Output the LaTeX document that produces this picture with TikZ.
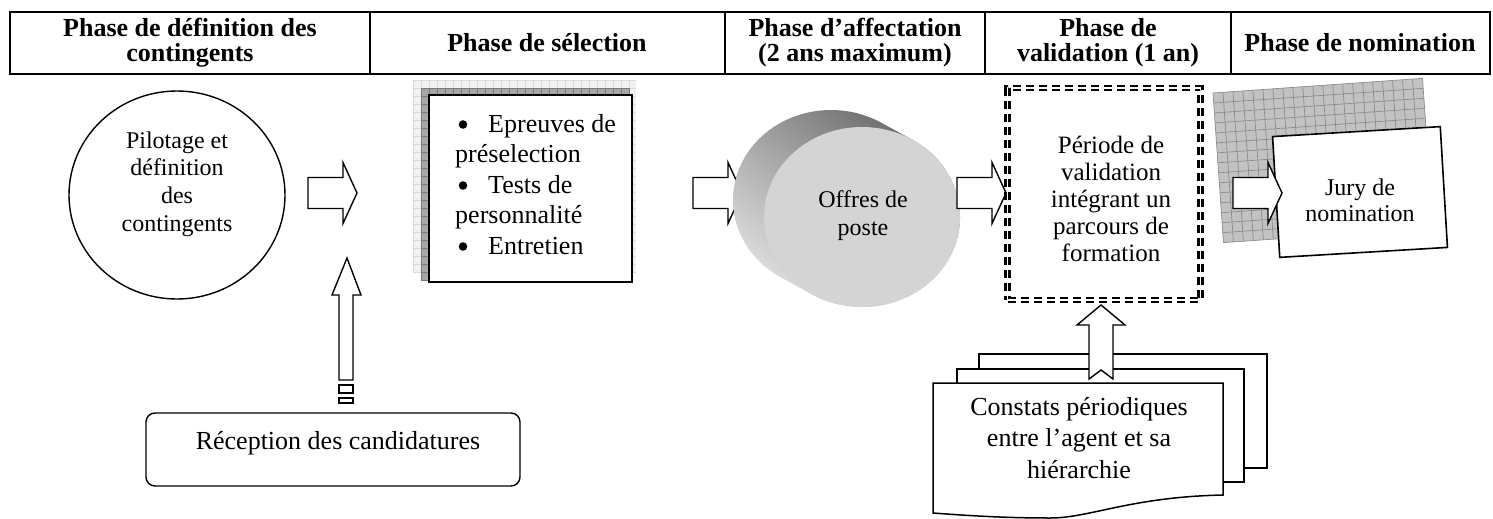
\documentclass[tikz,border=0pt]{standalone}
\usepackage{fontspec}
\setmainfont{Liberation Serif}
\usetikzlibrary{calc,shapes.geometric}
\begin{document}
\begin{tikzpicture}[x=1pt,y=-1pt,
  hdr/.style={font=\bfseries\fontsize{26}{25}\selectfont, align=center, inner sep=0pt},
  txt/.style={align=center, inner sep=0pt},
  blk/.style={draw=black, line width=1.4pt, fill=white, line join=miter},
  rarr/.pic={\draw[blk] (0,-15.5) -- (35,-15.5) -- (35,-30.5) -- (49,0) -- (35,30.5) -- (35,15.5) -- (0,15.5) -- cycle;}
]
\useasboundingbox (0,0) rectangle (1493,519);

% ---------------- header table
\draw[line width=1.8pt] (10,12) rectangle (1490,74);
\foreach \x in {370,725,985,1231} \draw[line width=1.2pt] (\x,12) -- (\x,74);
\node[hdr] (h1) at (190,43) {Phase de définition des\\contingents};
\node[hdr] (h2) at (547,43) {Phase de sélection};
\node[hdr] (h3) at (855,43) {Phase d’affectation\\(2 ans maximum)};
\node[hdr] (h4) at (1108,43) {Phase de\\validation (1 an)};
\node[hdr] (h5) at (1360,43) {Phase de nomination};

% ---------------- pilotage ellipse
\node[draw, ellipse, line width=1.4pt, minimum width=216pt, minimum height=208pt] (pil) at (177,195) {};
\node[txt, font=\fontsize{24}{27.7}\selectfont] (pilt) at (177,184) {Pilotage et\\définition\\des\\contingents};
\pic at (308,193) {rarr};

% ---------------- reception
\node[draw, line width=1.4pt, rounded corners=9pt, minimum width=374pt, minimum height=73pt] (rec) at (333,449.5) {};
\node[txt, font=\fontsize{26}{28}\selectfont] (rect) at (338,443) {Réception des candidatures};
\draw[blk] (339,380) -- (339,295) -- (332,295) -- (347,258) -- (361,295) -- (353,295) -- (353,380) -- cycle;
\draw[line width=1.4pt] (339,385) rectangle (353,393);
\draw[line width=1.4pt] (339,398) rectangle (353,403);

% ---------------- selection box
\fill[black!5] (413,80) rectangle (636,272);
\foreach \x in {413,421,...,636} \draw[black!14, line width=0.5pt] (\x,80) -- (\x,272);
\foreach \y in {80,88,...,272} \draw[black!14, line width=0.5pt] (413,\y) -- (636,\y);
\fill[black!35] (421,88) rectangle (630,281);
\foreach \x in {421,429,...,630} \draw[black!52, line width=0.5pt] (\x,88) -- (\x,281);
\foreach \y in {88,96,...,281} \draw[black!52, line width=0.5pt] (421,\y) -- (630,\y);
\node[draw, line width=1.6pt, fill=white, minimum width=203pt, minimum height=187pt] (sel) at (530.5,188.5) {};
\node[anchor=north west, align=left, inner sep=0pt, font=\fontsize{26}{30.5}\selectfont] (seltxt) at (455,114)
  {\hspace*{33pt}Epreuves de\\préselection\\\hspace*{33pt}Tests de\\personnalité\\\hspace*{33pt}Entretien};
\foreach \yb in {0,2,4} \fill ($(seltxt.north west)+(8,10.5+30.5*\yb)$) circle (4.3);
\pic at (693,193) {rarr};

% ---------------- cylinder
\coordinate (F) at (862,217);
\coordinate (B) at (831,200);
\shade[top color=black!62, bottom color=black!10, shading angle=-40]
  ($(B)+(-59.2:98 and 90)$) arc[start angle=-59.2, end angle=-239.2, x radius=98, y radius=90]
  -- ($(F)+(120.8:98 and 90)$) arc[start angle=120.8, end angle=-59.2, x radius=98, y radius=90] -- cycle;
\node[ellipse, fill=black!17, minimum width=196pt, minimum height=180pt, inner sep=0pt] (off) at (F) {};
\node[txt, font=\fontsize{24}{28}\selectfont] (offt) at (863,216) {Offres de\\poste};
\pic at (957,193) {rarr};

% ---------------- validation box
\node[draw, double, double distance=1.8pt, line width=2.4pt, dash pattern=on 8pt off 5pt, minimum width=193pt, minimum height=212pt] (val) at (1104,194) {};
\node[txt, font=\fontsize{25}{27}\selectfont] (valt) at (1111,199) {Période de\\validation\\intégrant un\\parcours de\\formation};

% ---------------- constats (multi document)
\draw[line width=1.5pt, fill=white] (979,354) rectangle (1267,468);
\draw[line width=1.5pt, fill=white] (957,369) rectangle (1244,482);
\draw[line width=1.5pt, fill=white] (933,383) -- (1223,383) -- (1223,495)
  .. controls (1130,497) and (1090,518) .. (1050,518)
  .. controls (1000,518) and (960,515) .. (933,513) -- cycle;
\node[txt, font=\fontsize{26}{31.5}\selectfont] (cont) at (1079,438) {Constats périodiques\\entre l’agent et sa\\hiérarchie};
\draw[blk] (1089,379) -- (1089,325) -- (1077,325) -- (1101,305) -- (1125,325) -- (1113,325) -- (1113,379) -- (1101,370) -- cycle;

% ---------------- jury
\begin{scope}[shift={(1213,93)}, rotate=4]
  \fill[black!24] (0,0) rectangle (210,150);
  \foreach \x in {0,10,...,210} \draw[black!45, line width=0.7pt] (\x,0) -- (\x,150);
  \foreach \y in {0,10,...,150} \draw[black!45, line width=0.7pt] (0,\y) -- (210,\y);
\end{scope}
\node[draw, line width=1.6pt, fill=white, rotate=3.4, minimum width=168pt, minimum height=121pt] (jury) at (1360,192) {};
\node[txt, font=\fontsize{24}{26}\selectfont] (juryt) at (1360,200) {Jury de\\nomination};
\pic at (1233,193) {rarr};
\end{tikzpicture}
\end{document}
